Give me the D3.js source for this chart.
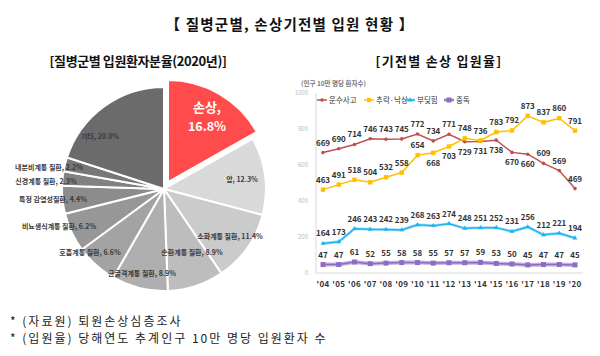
<!DOCTYPE html>
<html><head><meta charset="utf-8">
<script src="https://cdn.jsdelivr.net/npm/d3@7/dist/d3.min.js"></script>
<style>
html,body{margin:0;padding:0;background:#fff;}
svg{display:block;font-family:"Noto Sans CJK KR","Noto Sans",sans-serif;}
</style></head>
<body>
<svg id="c" width="600" height="356"></svg>
<script>
// ---- Pie data ----
const pieCategories = ["손상","암","소화계통 질환","순환계통 질환","근골격계통 질환","호흡계통 질환","비뇨생식계통 질환","특정 감염성질환","신경계통 질환","내분비계통 질환","기타"];
const pieValues = [16.8,12.3,11.4,8.9,8.9,6.6,6.2,4.4,2.3,2.2,20.0];
const pieColors = ["#FF4B4B","#D9D9D9","#CBCBCB","#BDBDBD","#AFAFAF","#A3A3A3","#979797","#8C8C8C","#818181","#777777","#6B6B6B"];

// ---- Line data ----
const years = ["'04","'05","'06","'07","'08","'09","'10","'11","'12","'13","'14","'15","'16","'17","'18","'19","'20"];
const seriesNames = ["운수사고","추락·낙상","부딪힘","중독"];
const transport = [669,690,714,746,743,745,772,734,771,729,731,738,670,660,609,569,469];
const falls = [463,491,518,504,532,558,654,668,703,748,736,783,792,873,837,860,791];
const struck = [164,173,246,243,242,239,268,263,274,248,251,252,231,256,212,221,194];
const poison = [47,47,61,52,55,58,58,55,57,57,59,53,50,45,47,47,45];
const yTicks = [0,200,400,600,800,1000];
// labels drawn below the point (by series, by index)
const belowIdx = [[9,10,11,12,13],[7,8],[],[]];

const svg = d3.select("#c");

// titles
svg.append("text").attr("x",290).attr("y",30).attr("text-anchor","middle")
  .attr("font-size",14.5).attr("font-weight","bold").attr("fill","#111").attr("letter-spacing",1.2)
  .text("【 질병군별, 손상기전별 입원 현황 】");
svg.append("text").attr("x",138).attr("y",66).attr("text-anchor","middle")
  .attr("font-size",13).attr("font-weight","bold").attr("fill","#111").attr("letter-spacing",-0.4)
  .text("[질병군별 입원환자분율(2020년)]");
svg.append("text").attr("x",439).attr("y",66).attr("text-anchor","middle")
  .attr("font-size",13).attr("font-weight","bold").attr("fill","#111").attr("letter-spacing",1.3)
  .text("[기전별 손상 입원율]");

// footnotes
svg.append("text").attr("x",10).attr("y",326).attr("font-size",12).attr("fill","#222").attr("letter-spacing",2)
  .text("* (자료원) 퇴원손상심층조사");
svg.append("text").attr("x",10).attr("y",343).attr("font-size",12).attr("fill","#222").attr("letter-spacing",2)
  .text("* (입원율) 당해연도 추계인구 10만 명당 입원환자 수");

// ---- Pie ----
const cx = 164, cy = 189, R = 102;
const pie = d3.pie().sort(null).value(d=>d)(pieValues);
const arc = d3.arc().innerRadius(0).outerRadius(R);
const pg = svg.append("g").attr("transform",`translate(${cx},${cy})`);
pg.selectAll("path").data(pie).join("path")
  .attr("d",arc)
  .attr("fill",(d,i)=>pieColors[i])
  .attr("stroke","#fff").attr("stroke-width",2)
  .attr("transform",(d,i)=>{
    if(i!==0) return null;
    const a=(d.startAngle+d.endAngle)/2, off=8;
    return `translate(${Math.sin(a)*off},${-Math.cos(a)*off})`;
  });
// pie labels positions
const pieLabelPos = [null,[242,179],[230,236],[192,252],[142,273],[90,252],[59,226],[53,199],[46,181],[49,167],[100,136]];
pie.forEach((d,i)=>{
  if(i===0){
    svg.append("text").attr("x",207).attr("y",112).attr("text-anchor","middle")
      .attr("font-size",13).attr("font-weight","bold").attr("fill","#fff").text(pieCategories[0]+",");
    svg.append("text").attr("x",207).attr("y",131).attr("text-anchor","middle")
      .attr("font-size",12.5).attr("font-weight","bold").attr("fill","#fff").text(pieValues[0].toFixed(1)+"%");
    return;
  }
  const p = pieLabelPos[i];
  svg.append("text").attr("x",p[0]).attr("y",p[1]+2.5).attr("text-anchor","middle")
    .attr("font-size",7).attr("font-weight","bold").attr("fill","#3A3A3A")
    .text(pieCategories[i]+", "+pieValues[i].toFixed(1)+"%");
});

// ---- Line chart ----
const x = d3.scalePoint().domain(years).range([323,575]);
const y = d3.scaleLinear().domain([0,1000]).range([273,93]);
const lg = svg.append("g");
lg.append("line").attr("x1",316).attr("x2",316).attr("y1",93).attr("y2",273).attr("stroke","#D9D9D9");
lg.append("line").attr("x1",316).attr("x2",583).attr("y1",273).attr("y2",273).attr("stroke","#D9D9D9");
yTicks.forEach(t=>{
  lg.append("text").attr("x",308).attr("y",y(t)+2).attr("text-anchor","end")
    .attr("font-size",6).attr("fill","#BBB").text(t);
});
years.forEach(yr=>{
  lg.append("text").attr("x",x(yr)).attr("y",287).attr("text-anchor","middle")
    .attr("font-size",8).attr("font-weight","bold").attr("fill","#333").attr("letter-spacing",0.3).text(yr);
});
lg.append("text").attr("x",301).attr("y",86).attr("font-size",6.5).attr("font-weight","bold").attr("fill","#777")
  .text("(인구 10만 명당 환자수)");

const data = [transport,falls,struck,poison];
const colors = ["#C0504D","#FFC000","#1FB4F0","#8E6CC0"];
const under = [null,null,"#A8E0F8","#C4B0E0"];
const widths = [1.5,1.5,1.5,1.5];
const line = d3.line().x((d,i)=>x(years[i])).y(d=>y(d));

data.forEach((s,k)=>{
  if(under[k]) lg.append("path").attr("d",line(s)).attr("fill","none").attr("stroke",under[k]).attr("stroke-width",k===3?4:3);
  lg.append("path").attr("d",line(s)).attr("fill","none").attr("stroke",colors[k]).attr("stroke-width",widths[k]);
  s.forEach((v,i)=>{
    const px=x(years[i]), py=y(v);
    if(k===0) lg.append("circle").attr("cx",px).attr("cy",py).attr("r",1.8).attr("fill",colors[k]);
    else if(k===1) lg.append("rect").attr("x",px-2.2).attr("y",py-2.2).attr("width",4.4).attr("height",4.4).attr("fill",colors[k]);
    else if(k===2) lg.append("path").attr("d",d3.symbol().type(d3.symbolTriangle).size(10)()).attr("transform",`translate(${px},${py})`).attr("fill",colors[k]);
    else lg.append("rect").attr("x",px-2.5).attr("y",py-2.5).attr("width",5).attr("height",5).attr("fill",colors[k]);
    const below = belowIdx[k].includes(i);
    lg.append("text").attr("x",px).attr("y",below?py+13:py-7).attr("text-anchor","middle")
      .attr("font-size",8).attr("font-weight","bold").attr("fill","#333").text(v);
  });
});

// legend
const legX = [317,364,405,444];
seriesNames.forEach((n,k)=>{
  const lx=legX[k], ly=100;
  if(under[k]) lg.append("line").attr("x1",lx).attr("x2",lx+10).attr("y1",ly).attr("y2",ly).attr("stroke",under[k]).attr("stroke-width",3);
  lg.append("line").attr("x1",lx).attr("x2",lx+10).attr("y1",ly).attr("y2",ly).attr("stroke",colors[k]).attr("stroke-width",1.5);
  if(k===0) lg.append("circle").attr("cx",lx+5).attr("cy",ly).attr("r",1.8).attr("fill",colors[k]);
  else if(k===1) lg.append("rect").attr("x",lx+3).attr("y",ly-2).attr("width",4).attr("height",4).attr("fill",colors[k]);
  else if(k===2) lg.append("path").attr("d",d3.symbol().type(d3.symbolTriangle).size(10)()).attr("transform",`translate(${lx+5},${ly})`).attr("fill",colors[k]);
  else lg.append("rect").attr("x",lx+2.5).attr("y",ly-2.5).attr("width",5).attr("height",5).attr("fill",colors[k]);
  lg.append("text").attr("x",lx+12).attr("y",ly+2.5).attr("font-size",7.5).attr("fill","#333").text(n);
});
</script>
</body></html>
